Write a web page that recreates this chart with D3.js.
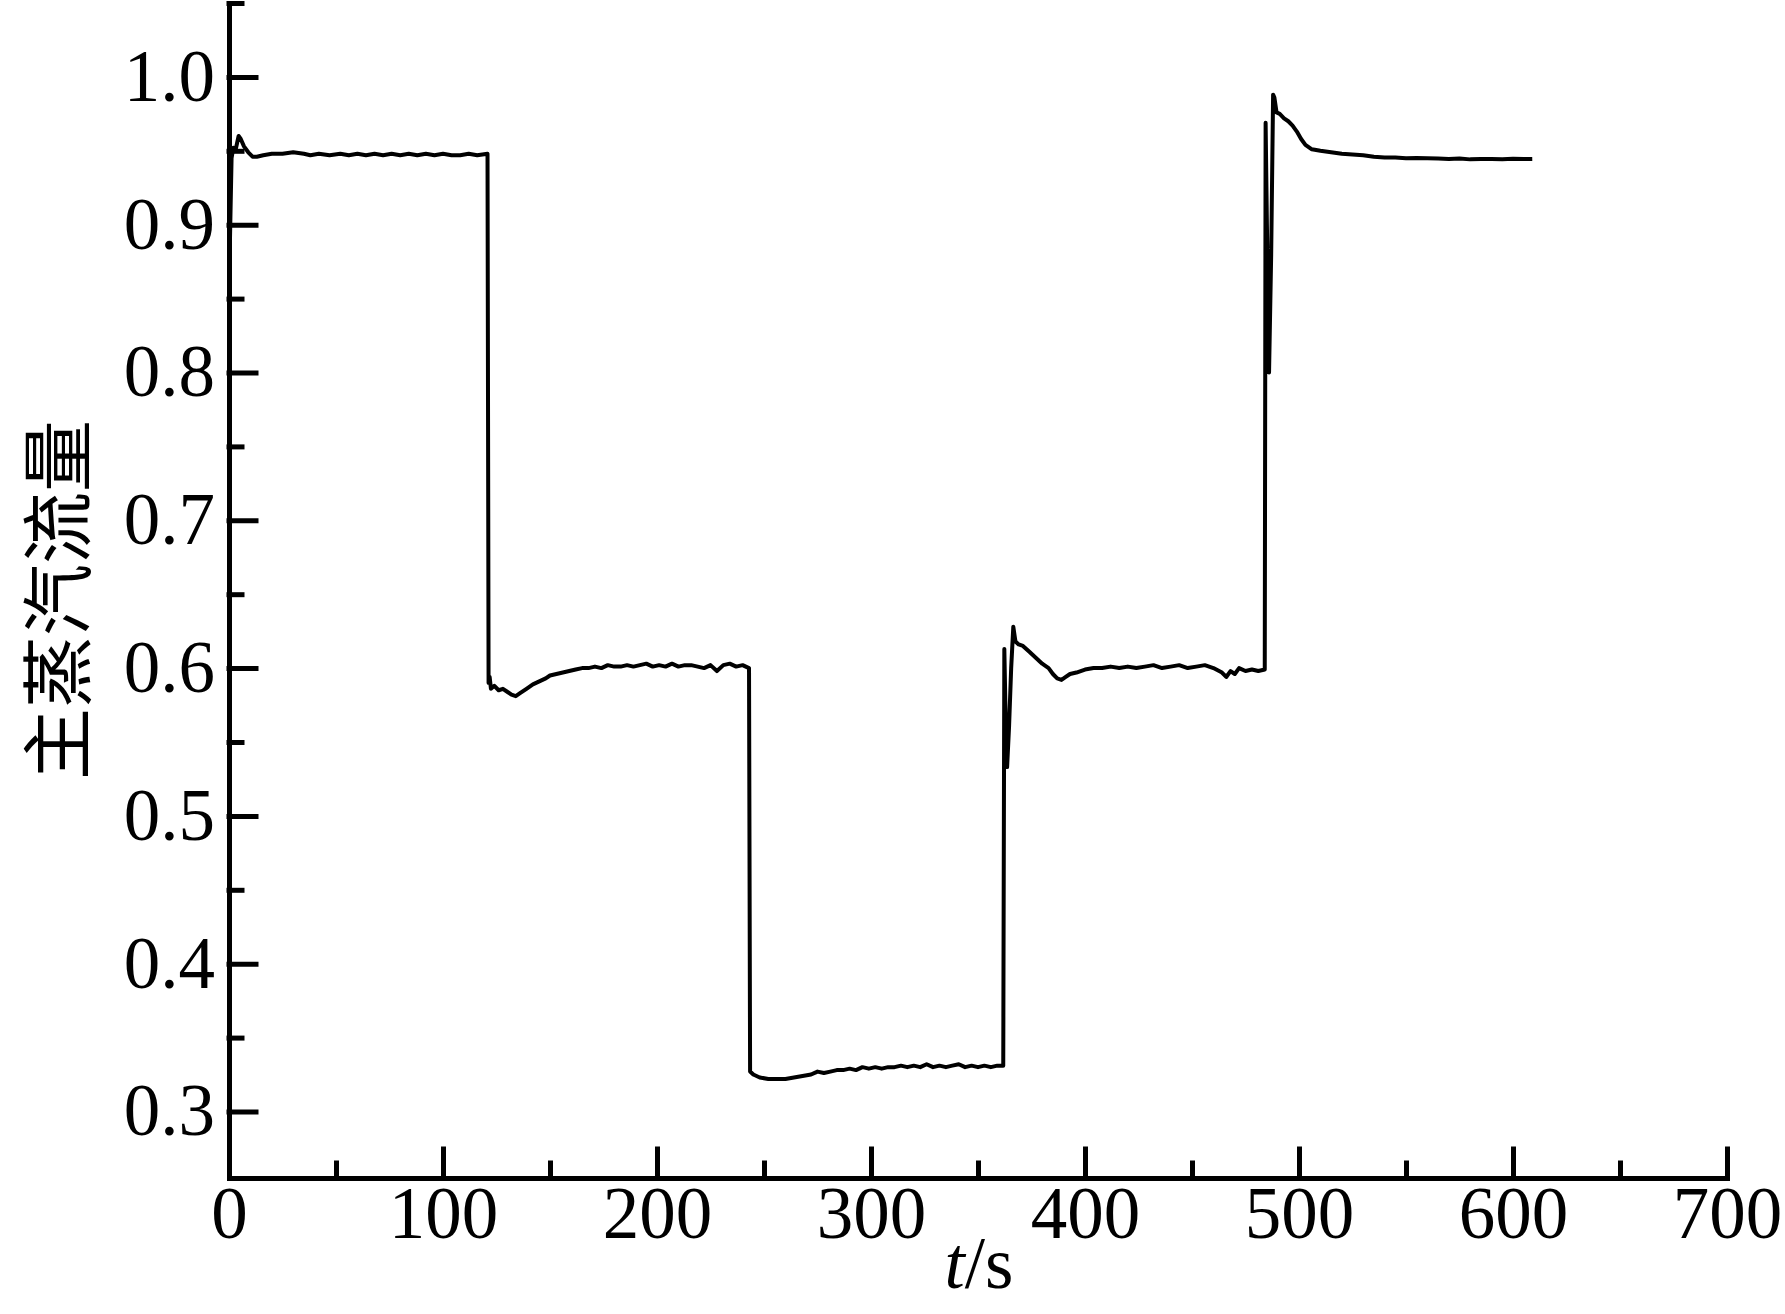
<!DOCTYPE html>
<html>
<head>
<meta charset="utf-8">
<script src="https://cdn.jsdelivr.net/npm/d3@7"></script>
<style>
  body { margin: 0; background: #fff; }
  .tick text { font-family: "Liberation Serif", "Times New Roman", serif; }
</style>
</head>
<body>
<div id="chart"></div>
<script>
const width = 1785, height = 1314;

// time (s) and main steam flow
const timeS = [
  0, 0.4, 1.2, 2, 3, 4.5, 5.5, 7, 9, 11, 13, 16, 20, 25, 30, 35, 38, 42, 47, 52, 56, 60, 64, 68, 72, 76,
  80, 84, 88, 92, 96, 100, 104, 108, 112, 116, 120.8,
  121.3, 121.8, 122.4, 124, 126, 128, 130, 132, 134, 136, 139, 142, 145, 148, 150, 153, 156, 159, 162,
  165, 168, 171, 174, 177, 180, 183, 186, 189, 192, 195, 198, 201, 204, 207, 210, 213, 216, 219, 222,
  225, 228, 231, 234, 237, 240, 243,
  243.5, 245, 248, 252, 256, 260, 264, 268, 272, 275, 278, 281, 284, 287, 290, 293, 296, 299, 302, 305,
  308, 311, 314, 317, 320, 323, 326, 329, 332, 335, 338, 341, 344, 347, 350, 353, 356, 359, 361.8,
  362.3, 363, 363.6, 364.5, 365.5, 366.5, 367.5, 369, 371, 374, 377, 380, 383, 385, 387, 389, 391, 393,
  396, 400, 404, 408, 412, 416, 420, 424, 428, 432, 436, 440, 444, 448, 452, 456, 460, 464, 466, 468,
  470, 472, 475, 478, 481, 484,
  484.4, 485, 486, 487, 487.9, 488.5, 489.5, 491, 493, 495, 497, 499, 501, 503, 506, 510, 515, 520, 525,
  530, 535, 540, 545, 550, 555, 560, 565, 570, 575, 580, 585, 590, 595, 600, 605, 609
];
const flow = [
  0.930, 0.886, 0.945, 0.952, 0.950, 0.960, 0.958, 0.953, 0.949, 0.946, 0.946, 0.947, 0.948, 0.948, 0.949,
  0.948, 0.947, 0.948, 0.947, 0.948, 0.947, 0.948, 0.947, 0.948, 0.947, 0.948, 0.947, 0.948, 0.947, 0.948,
  0.947, 0.948, 0.947, 0.947, 0.948, 0.947, 0.948,
  0.590, 0.594, 0.586, 0.588, 0.585, 0.586, 0.584, 0.582, 0.581, 0.583, 0.586, 0.589, 0.591, 0.593, 0.595,
  0.596, 0.597, 0.598, 0.599, 0.600, 0.600, 0.601, 0.600, 0.602, 0.601, 0.601, 0.602, 0.601, 0.602, 0.603,
  0.601, 0.602, 0.601, 0.603, 0.601, 0.602, 0.602, 0.601, 0.600, 0.602, 0.598, 0.602, 0.603, 0.601, 0.602,
  0.600,
  0.327, 0.325, 0.323, 0.322, 0.322, 0.322, 0.323, 0.324, 0.325, 0.327, 0.326, 0.327, 0.328, 0.328, 0.329,
  0.328, 0.330, 0.329, 0.330, 0.329, 0.330, 0.330, 0.331, 0.330, 0.331, 0.330, 0.332, 0.330, 0.331, 0.330,
  0.331, 0.332, 0.330, 0.331, 0.330, 0.331, 0.330, 0.331, 0.331,
  0.613, 0.560, 0.533, 0.560, 0.600, 0.628, 0.618, 0.616, 0.615, 0.611, 0.607, 0.603, 0.600, 0.596, 0.593,
  0.592, 0.594, 0.596, 0.597, 0.599, 0.600, 0.600, 0.601, 0.600, 0.601, 0.600, 0.601, 0.602, 0.600, 0.601,
  0.602, 0.600, 0.601, 0.602, 0.600, 0.597, 0.594, 0.598, 0.596, 0.600, 0.598, 0.599, 0.598, 0.599,
  0.969, 0.900, 0.800, 0.880, 0.988, 0.986, 0.976, 0.975, 0.972, 0.970, 0.967, 0.963, 0.958, 0.954, 0.951,
  0.950, 0.949, 0.948, 0.9475, 0.947, 0.946, 0.9455, 0.9455, 0.945, 0.9452, 0.945, 0.9448, 0.9445, 0.9448,
  0.9442, 0.9445, 0.9445, 0.9443, 0.9446, 0.9444, 0.9445
];

const xMajor = [0, 100, 200, 300, 400, 500, 600, 700];
const xMinor = [50, 150, 250, 350, 450, 550, 650];
const yMajor = [0.3, 0.4, 0.5, 0.6, 0.7, 0.8, 0.9, 1.0];
const yMinor = [0.35, 0.45, 0.55, 0.65, 0.75, 0.85, 0.95, 1.05];

const svg = d3.select("#chart").append("svg")
  .attr("width", width)
  .attr("height", height);

const x = d3.scaleLinear().domain([0, 700]).range([229, 1727]);
const y = d3.scaleLinear().domain([0.255, 1.05]).range([1178, 3]);

// minor ticks first, then major with labels
svg.append("g")
  .attr("transform", `translate(0,${y(0.255)})`)
  .call(d3.axisBottom(x).tickValues(xMinor).tickSize(-15).tickSizeOuter(0).tickFormat(""));
svg.append("g")
  .attr("transform", `translate(${x(0)},0)`)
  .call(d3.axisLeft(y).tickValues(yMinor).tickSize(-13).tickSizeOuter(0).tickFormat(""));

svg.append("g")
  .attr("transform", `translate(0,${y(0.255)})`)
  .call(d3.axisBottom(x).tickValues(xMajor).tickSize(-29).tickSizeOuter(0).tickPadding(8).tickFormat(d3.format("d")));
svg.append("g")
  .attr("transform", `translate(${x(0)},0)`)
  .call(d3.axisLeft(y).tickValues(yMajor).tickSize(-27).tickSizeOuter(0).tickPadding(14).tickFormat(d3.format(".1f")));

svg.selectAll(".domain, .tick line")
  .attr("stroke", "#000")
  .attr("stroke-width", 5)
  .attr("stroke-linecap", "square");
svg.selectAll(".tick text")
  .attr("fill", "#000")
  .style("font-size", "73px");

const pts = timeS.map((t, i) => [t, flow[i]]);
const line = d3.line().x(d => x(d[0])).y(d => y(d[1]));

svg.append("path")
  .datum(pts)
  .attr("d", line)
  .attr("fill", "none")
  .attr("stroke", "#000")
  .attr("stroke-width", 4)
  .attr("stroke-linejoin", "round");

// axis titles
const xt = svg.append("text")
  .attr("x", 979)
  .attr("y", 1288)
  .attr("text-anchor", "middle")
  .style("font-family", "'Liberation Serif', serif")
  .style("font-size", "73px");
xt.append("tspan").style("font-style", "italic").text("t");
xt.append("tspan").text("/s");

svg.append("text")
  .attr("transform", "translate(52,600) rotate(-90)")
  .attr("text-anchor", "middle")
  .attr("dominant-baseline", "central")
  .style("font-family", "'Noto Sans CJK SC', sans-serif")
  .style("font-size", "72px")
  .text("主蒸汽流量");
</script>
</body>
</html>
